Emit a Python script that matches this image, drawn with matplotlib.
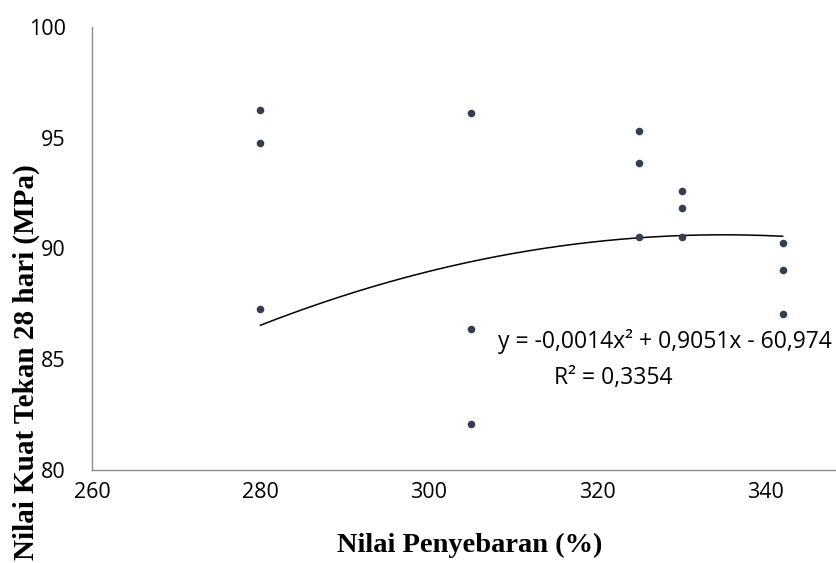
import numpy as np
import matplotlib
matplotlib.use("Agg")
import matplotlib.pyplot as plt

# Data
spread = [280, 280, 280, 305, 305, 305, 325, 325, 325, 330, 330, 330, 342, 342, 342]
strength = [96.25, 94.75, 87.27, 96.13, 86.35, 82.08, 95.32, 93.85, 90.53,
            92.60, 91.81, 90.53, 90.23, 89.03, 87.03]
# polynomial trendline coefficients (a, b, c) as shown (a less rounded)
trend_coef = [-0.001351, 0.9051, -60.974]
x_ticks = [260, 280, 300, 320, 340]
y_ticks = [80, 85, 90, 95, 100]
eq_text = "y = -0,0014x² + 0,9051x - 60,974"
r2_text = "R² = 0,3354"

fig = plt.figure(figsize=(8.37, 5.63), dpi=100)
W, H = 837, 563
ax = fig.add_axes([92 / W, (H - 470) / H, (850 - 92) / W, (470 - 27) / H])

ax.scatter(spread, strength, s=30, color="#333F50", zorder=3, linewidths=0)

xs = np.linspace(min(spread), max(spread), 200)
ax.plot(xs, np.polyval(trend_coef, xs), color="black", lw=1.1, zorder=2)

ax.set_xlim(260, 350)
ax.set_ylim(80, 100)
ax.set_xticks(x_ticks)
ax.set_yticks(y_ticks)
ax.tick_params(length=0, labelsize=15.5)
ax.tick_params(axis="x", pad=9)
ax.tick_params(axis="y", pad=19)
for lab in ax.get_xticklabels() + ax.get_yticklabels():
    lab.set_fontfamily("Open Sans")
for s in ["top", "right"]:
    ax.spines[s].set_visible(False)
for s in ["left", "bottom"]:
    ax.spines[s].set_color("#8c8c8c")
    ax.spines[s].set_linewidth(1.0)

ax.set_xlabel("Nilai Penyebaran (%)", fontfamily="Liberation Serif",
              fontweight="bold", fontsize=20.5, va="center")
ax.xaxis.set_label_coords((470 - 92) / 758, (470 - 545) / 443)
ax.set_ylabel("Nilai Kuat Tekan 28 hari (MPa)", fontfamily="Liberation Serif",
              fontweight="bold", fontsize=21, va="center")
ax.yaxis.set_label_coords((26 - 92) / 758, (470 - 362) / 443)

fig.text(665 / W, 1 - 341 / H, eq_text, fontfamily="Open Sans", fontsize=16.5,
         ha="center", va="center")
fig.text(613 / W, 1 - 378 / H, r2_text, fontfamily="Open Sans", fontsize=16.5,
         ha="center", va="center")

fig.savefig("out.png", dpi=100)
